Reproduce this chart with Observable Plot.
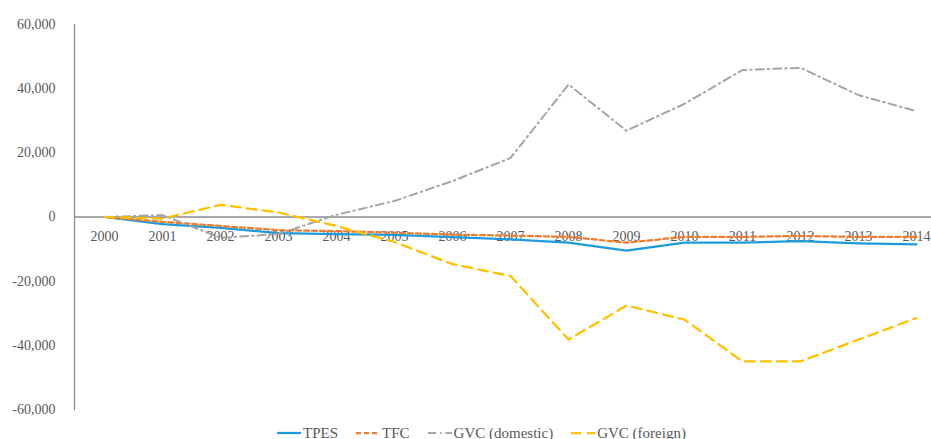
<!DOCTYPE html>
<html>
<head>
<meta charset="utf-8">
<script src="https://cdn.jsdelivr.net/npm/d3@7"></script>
<script src="https://cdn.jsdelivr.net/npm/@observablehq/plot@0.6"></script>
<style>
  html, body { margin: 0; padding: 0; background: #fff; }
  #chart { width: 931px; height: 425px; }
  #chart svg, #chart svg text { font-family: "Liberation Serif", "DejaVu Serif", serif !important; }
  .legend { display: flex; justify-content: center; align-items: center; height: 16px;
    font-family: "Liberation Serif", "DejaVu Serif", serif;
    font-size: 15px; color: #595959; margin-left: 32px; width: 899px; white-space: nowrap; }
  .legend .item { display: flex; align-items: center; margin-right: 18px; }
  .legend .item:last-child { margin-right: 0; }
  .legend svg { margin-right: 2px; }
</style>
</head>
<body>
<div id="chart"></div>
<script>
const years = ["2000","2001","2002","2003","2004","2005","2006","2007","2008","2009","2010","2011","2012","2013","2014"];
const tpes = [0, -2200, -3400, -5000, -5300, -5600, -6300, -7000, -8000, -10500, -8000, -8000, -7500, -8200, -8500];
const tfc = [0, -1500, -2800, -4100, -4400, -4900, -5500, -5800, -6200, -8000, -6200, -6200, -5900, -6200, -6200];
const gvcDomestic = [0, 600, -6500, -5300, 700, 5000, 11200, 18400, 41300, 26900, 35300, 45800, 46500, 38000, 33000];
const gvcForeign = [0, -500, 3800, 1400, -2800, -7800, -14700, -18400, -38200, -27600, -32000, -45000, -45000, -38200, -31500];
const yTicks = [60000, 40000, 20000, 0, -20000, -40000, -60000];
const seriesNames = ["TPES", "TFC", "GVC (domestic)", "GVC (foreign)"];

const toRows = (vals) => years.map((y, i) => ({year: y, value: vals[i]}));
const fmt = d => d.toLocaleString("en-US");
const serif = "Liberation Serif";

const styles = [
  {stroke: "#1F9BDB", dash: null, width: 2.25},
  {stroke: "#ED7D31", dash: "5,3", width: 2.25},
  {stroke: "#A5A5A5", dash: "8,4,1.5,4", width: 2},
  {stroke: "#FFC000", dash: "10,6", width: 2.25}
];
const data = [tpes, tfc, gvcDomestic, gvcForeign];

const chart = Plot.plot({
  width: 931,
  height: 425,
  marginLeft: 74,
  marginRight: 0,
  marginTop: 24,
  marginBottom: 16,
  style: "font-family: 'Liberation Serif', serif; font-size: 14px; color: #595959; background: #fff; overflow: hidden;",
  x: {type: "point", domain: years, range: [74, 945], padding: 0.5, axis: null},
  y: {domain: [-60000, 60000], axis: null},
  marks: [
    Plot.axisY({ticks: yTicks, tickSize: 0, tickPadding: 19, tickFormat: fmt, fill: "#595959", fontSize: 14, fontFamily: serif, label: null}),
    Plot.frame({anchor: "left", stroke: "#8C8C8C", strokeWidth: 1.25}),
    Plot.ruleY([0], {stroke: "#8C8C8C", strokeWidth: 1.5}),
    Plot.text(years, {x: d => d, y: () => 0, dy: 20, text: d => d, fill: "#595959", fontSize: 14, fontFamily: serif}),
    ...data.map((vals, i) => Plot.line(toRows(vals), {
      x: "year", y: "value", stroke: styles[i].stroke, strokeWidth: styles[i].width,
      strokeDasharray: styles[i].dash, strokeLinejoin: "round"
    }))
  ]
});
document.getElementById("chart").appendChild(chart);

const legend = document.createElement("div");
legend.className = "legend";
seriesNames.forEach((name, i) => {
  const item = document.createElement("div");
  item.className = "item";
  const s = styles[i];
  item.innerHTML = `<svg width="24" height="6"><line x1="0" y1="3" x2="24" y2="3" stroke="${s.stroke}" stroke-width="${s.width}" ${s.dash ? `stroke-dasharray="${s.dash}"` : ""}/></svg><span>${name}</span>`;
  legend.appendChild(item);
});
document.body.appendChild(legend);
</script>
</body>
</html>
